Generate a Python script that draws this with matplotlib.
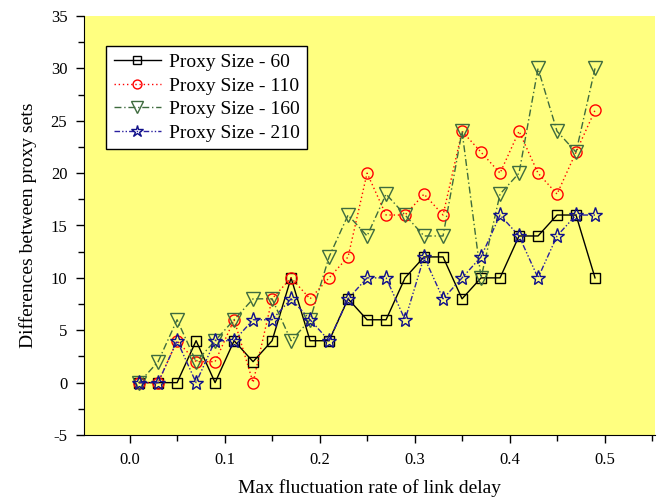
import matplotlib
matplotlib.use("Agg")
import matplotlib.pyplot as plt
from matplotlib.ticker import MultipleLocator, FormatStrFormatter

plt.rcParams['font.family'] = ['Liberation Serif', 'DejaVu Serif']
plt.rcParams['axes.unicode_minus'] = False

x = [0.01, 0.03, 0.05, 0.07, 0.09, 0.11, 0.13, 0.15, 0.17, 0.19, 0.21, 0.23, 0.25,
     0.27, 0.29, 0.31, 0.33, 0.35, 0.37, 0.39, 0.41, 0.43, 0.45, 0.47, 0.49]
size_60 = [0, 0, 0, 4, 0, 4, 2, 4, 10, 4, 4, 8, 6, 6, 10, 12, 12, 8, 10, 10, 14, 14, 16, 16, 10]
size_110 = [0, 0, 4, 2, 2, 6, 0, 8, 10, 8, 10, 12, 20, 16, 16, 18, 16, 24, 22, 20, 24, 20, 18, 22, 26]
size_160 = [0, 2, 6, 2, 4, 6, 8, 8, 4, 6, 12, 16, 14, 18, 16, 14, 14, 24, 10, 18, 20, 30, 24, 22, 30]
size_210 = [0, 0, 4, 0, 4, 4, 6, 6, 8, 6, 4, 8, 10, 10, 6, 12, 8, 10, 12, 16, 14, 10, 14, 16, 16]
labels = ["Proxy Size - 60", "Proxy Size - 110", "Proxy Size - 160", "Proxy Size - 210"]

fig = plt.figure(figsize=(6.7, 5.0), dpi=100)
ax = fig.add_axes([0.1254, 0.13, 0.852, 0.838])
ax.set_facecolor('#FFFF80')

ax.plot(x, size_60, color='black', linestyle='-', linewidth=1.0, marker='s', markersize=7,
        markerfacecolor='none', markeredgecolor='black', markeredgewidth=1.0, label=labels[0])
ax.plot(x, size_110, color='red', linestyle=(0, (1, 2)), linewidth=1.0, marker='o', markersize=8,
        markerfacecolor='none', markeredgecolor='red', markeredgewidth=1.0, label=labels[1])
ax.plot(x, size_160, color='#3E6B3E', linestyle=(0, (5, 2, 1, 2)), linewidth=1.0, marker='v', markersize=10,
        markerfacecolor='none', markeredgecolor='#3E6B3E', markeredgewidth=1.0, label=labels[2])
ax.plot(x, size_210, color='#2A20A0', linestyle=(0, (4, 1.5, 1, 1.5, 1, 1.5)), linewidth=1.0, marker='*', markersize=11,
        markerfacecolor='none', markeredgecolor='#10108A', markeredgewidth=1.0, label=labels[3])

ax.set_xlim(-0.048, 0.553)
ax.set_ylim(-5, 35)
ax.xaxis.set_major_locator(MultipleLocator(0.1))
ax.xaxis.set_minor_locator(MultipleLocator(0.05))
ax.yaxis.set_major_locator(MultipleLocator(5))
ax.yaxis.set_minor_locator(MultipleLocator(2.5))
ax.xaxis.set_major_formatter(FormatStrFormatter('%.1f'))

for s in ['top', 'right']:
    ax.spines[s].set_visible(False)
ax.tick_params(which='major', direction='out', length=6, width=1, labelsize=12, pad=6)
ax.tick_params(which='minor', direction='out', length=4, width=1)

ax.set_xlabel("Max fluctuation rate of link delay", fontsize=14, labelpad=8)
ax.set_ylabel("Differences between proxy sets", fontsize=14, labelpad=10)

leg = ax.legend(loc='upper left', bbox_to_anchor=(0.022, 0.952), fontsize=14, frameon=True,
                fancybox=False, edgecolor='black', framealpha=1.0, handlelength=2.4,
                borderpad=0.4, labelspacing=0.3, handletextpad=0.4, markerscale=0.8)
leg.get_frame().set_linewidth(1.0)

fig.savefig("out.png", dpi=100)
